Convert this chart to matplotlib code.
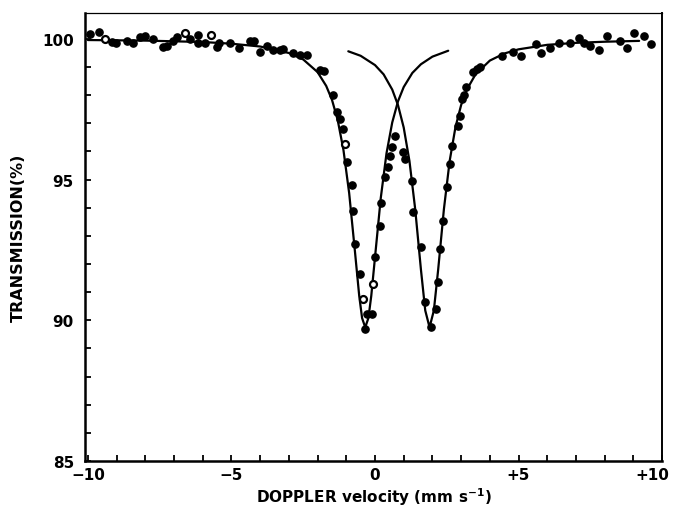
import matplotlib.pyplot as plt
import matplotlib.transforms as mtransforms

# measured points (filled)
vel = [-9.92, -9.60, -9.17, -9.02, -8.65, -8.44, -8.18, -8.01, -7.72, -7.37,
       -7.23, -7.04, -6.90, -6.44, -6.18, -6.15, -5.92, -5.49, -5.45, -5.05,
       -4.72, -4.35, -4.23, -4.02, -3.77, -3.56, -3.30, -3.19, -2.84, -2.61,
       -2.37, -1.93, -1.79, -1.48, -1.33, -1.21, -1.10, -0.98, -0.81,
       -0.77, -0.69, -0.52, -0.28, -0.34, -0.11, 0.01, 0.18, 0.20, 0.36,
       0.44, 0.51, 0.59, 0.70, 0.99, 1.05, 1.28, 1.34, 1.60, 1.75, 1.96,
       2.13, 2.21, 2.27, 2.36, 2.50, 2.62, 2.68, 2.88, 2.95, 3.03, 3.09,
       3.17, 3.43, 3.55, 3.67, 4.42, 4.80, 5.08, 5.62, 5.78, 6.10, 6.40,
       6.80, 7.09, 7.27, 7.50, 7.79, 8.08, 8.54, 8.78, 9.03, 9.36, 9.61]
trans = [100.18, 100.24, 99.88, 99.85, 99.92, 99.86, 100.06, 100.12, 100.00, 99.70,
         99.74, 99.94, 100.06, 99.98, 100.14, 99.86, 99.86, 99.70, 99.86, 99.86,
         99.67, 99.91, 99.94, 99.53, 99.74, 99.59, 99.59, 99.64, 99.50, 99.43,
         99.43, 98.91, 98.87, 98.02, 97.39, 97.16, 96.80, 95.64, 94.82,
         93.90, 92.71, 91.65, 90.23, 89.69, 90.23, 92.24, 93.36, 94.17, 95.08,
         95.44, 95.83, 96.15, 96.56, 95.97, 95.73, 94.96, 93.86, 92.59, 90.64, 89.75,
         90.40, 91.35, 92.54, 93.54, 94.73, 95.56, 96.18, 96.92, 97.27, 97.87, 97.99,
         98.28, 98.82, 98.93, 98.99, 99.38, 99.53, 99.38, 99.82, 99.49, 99.67, 99.86,
         99.86, 100.02, 99.86, 99.74, 99.61, 100.09, 99.94, 99.67, 100.20, 100.09, 99.82]

# measured points (open circles)
vel_open = [-9.40, -6.61, -5.71, -1.04, -0.42, -0.07]
trans_open = [99.98, 100.21, 100.14, 96.27, 90.76, 91.29]

# fitted line, low velocity component
fit1_v = [-10.0, -8.0, -6.0, -5.0, -4.0, -3.0, -2.5, -2.0, -1.7, -1.5, -1.3,
          -1.1, -0.9, -0.7, -0.55, -0.45, -0.34, -0.23, -0.13, 0.0, 0.2, 0.4,
          0.6, 0.8, 1.0, 1.3, 1.6, 2.0, 2.55]
fit1_t = [99.96, 99.94, 99.89, 99.83, 99.73, 99.50, 99.27, 98.82, 98.33, 97.84, 97.12,
          96.06, 94.52, 92.46, 90.87, 90.08, 89.75, 90.08, 90.87, 92.24, 94.34, 95.93,
          97.03, 97.78, 98.29, 98.79, 99.10, 99.37, 99.58]

# fitted line, high velocity component
fit2_v = [-0.93, -0.5, 0.0, 0.3, 0.6, 0.8, 1.0, 1.2, 1.4, 1.6, 1.75, 1.9,
          2.05, 2.2, 2.4, 2.6, 2.8, 3.0, 3.2, 3.5, 4.0, 4.5, 5.0, 6.0, 7.0,
          8.0, 9.2]
fit2_t = [99.56, 99.40, 99.07, 98.74, 98.20, 97.65, 96.85, 95.66, 93.95, 91.80, 90.35, 89.75,
          90.35, 91.80, 93.95, 95.66, 96.85, 97.65, 98.20, 98.74, 99.23, 99.48, 99.63, 99.79, 99.86,
          99.90, 99.93]

xticks = [-10, -5, 0, 5, 10]
xticklabels = ['\u221210', '\u22125', '0', '+5', '+10']
yticks = [85, 90, 95, 100]

plt.rcParams['font.family'] = 'DejaVu Sans'
fig = plt.figure(figsize=(6.77, 5.10), dpi=100)
ax = fig.add_axes([0.1256, 0.0941, 0.8524, 0.8784])

ax.plot(fit1_v, fit1_t, color='black', lw=1.6, solid_capstyle='round')
ax.plot(fit2_v, fit2_t, color='black', lw=1.6, solid_capstyle='round')
ax.plot(vel, trans, 'o', color='black', ms=5.2, mec='black')
ax.plot(vel_open, trans_open, 'o', mfc='white', mec='black', mew=1.6, ms=5.0)

ax.set_xlim(-10.1, 10.0)
ax.set_ylim(85, 100.92)

ax.set_xticks(xticks)
ax.set_xticklabels(xticklabels)
ax.set_xticks(range(-10, 11), minor=True)
ax.set_yticks(yticks)
ax.set_yticks(range(85, 101), minor=True)
ax.tick_params(which='both', direction='in', length=4, width=1.3)
ax.tick_params(axis='x', pad=4, labelsize=11)
ax.tick_params(axis='y', pad=8, labelsize=11)
for lab in ax.get_xticklabels() + ax.get_yticklabels():
    lab.set_fontweight('bold')

# the last label sits right at the edge, nudge it in a little
last = ax.get_xticklabels()[-1]
last.set_transform(last.get_transform() + mtransforms.ScaledTranslation(-10 / 100, 0, fig.dpi_scale_trans))

ax.spines['left'].set_linewidth(1.8)
ax.spines['bottom'].set_linewidth(1.8)
ax.spines['right'].set_linewidth(1.4)
ax.spines['top'].set_linewidth(0.9)

ax.set_xlabel('DOPPLER velocity (mm s$^{\\mathbf{-1}}$)', fontsize=11, fontweight='bold', labelpad=3)
ax.set_ylabel('TRANSMISSION(%)', fontsize=11.5, fontweight='bold', labelpad=12)

fig.savefig('out.png', dpi=100)
